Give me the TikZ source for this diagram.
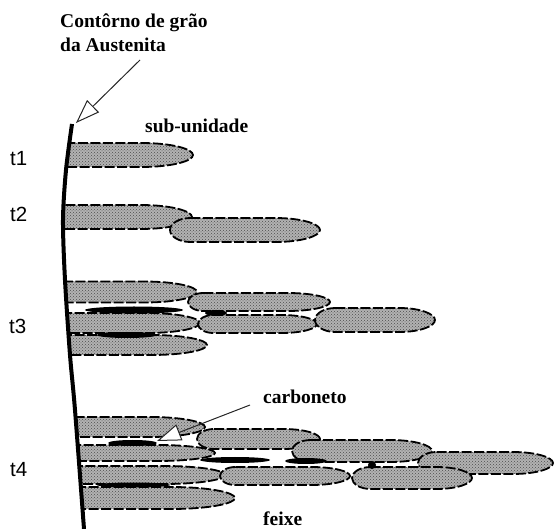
\documentclass[tikz,border=0pt]{standalone}
\usepackage{fontspec}
\setmainfont{Liberation Serif}
\newfontfamily\tempofont{Liberation Sans}
\usetikzlibrary{arrows.meta,patterns}

\tikzset{
	placa/.style={draw, line width=1.8pt, dash pattern=on 10pt off 2.5pt, preaction={fill=black!30}, pattern=crosshatch dots, pattern color=black!70},
	carbeto/.style={fill=black},
	rotulo/.style={font=\bfseries\fontsize{19.5}{22}\selectfont, inner sep=0pt, anchor=base west},
	tempo/.style={font=\tempofont\fontsize{20.5}{22}\selectfont, inner sep=0pt, anchor=base west},
	seta/.style={line width=1pt, black!85, -{Triangle[open, fill=white, length=24pt, width=17pt]}}
}

\begin{document}
\begin{tikzpicture}[x=1pt, y=-1pt]
	\useasboundingbox (0,0) rectangle (555,529);

	% placas (sub-unidades), cortadas no contorno
	\begin{scope}
		\clip plot[smooth] coordinates {(72,124) (66,170) (63,220) (65,280) (70,355) (75,410) (84,529)} -- (555,529) -- (555,120) -- cycle;
		\foreach \xl/\xr/\yc/\h in {20/193/155/12,
			20/192/217/12, 170/320/230/12,
			20/197/292/10.5, 188/330/302/9, 20/200/323/10, 198/317/324/9, 315/435/320/12, 20/207/345/10,
			20/205/427/10, 197/320/439/10, 292/432/451/11, 418/553/463/11, 20/215/453/8,
			20/225/475/9, 220/350/476/9, 352/472/478/11, 20/235/498/11}{
			\pgfmathsetmacro\xa{\xr-0.3*(\xr-\xl)}
			\pgfmathsetmacro\xb{\xr-0.12*(\xr-\xl)}
			\draw[placa] ({\xl+1.7*\h},{\yc-\h}) -- (\xa,{\yc-\h})
				.. controls (\xb,{\yc-\h}) and (\xr,{\yc-0.5*\h}) .. (\xr,\yc)
				.. controls (\xr,{\yc+0.5*\h}) and (\xb,{\yc+\h}) .. (\xa,{\yc+\h})
				-- ({\xl+1.7*\h},{\yc+\h}) arc[start angle=90, end angle=270, x radius=1.7*\h, y radius=\h] -- cycle;
		}
		% carbonetos
		\foreach \xl/\xr/\yc/\h in {85/183/310/3.5, 205/227/313/3, 97/157/335/3,
			108/157/443/3, 200/270/460/3, 285/327/461/3, 97/170/485/2.5}{
			\fill[carbeto] ({(\xl+\xr)/2},\yc) ellipse ({(\xr-\xl)/2} and \h);
		}
		\fill[carbeto] (372,465) circle (4);
	\end{scope}

	% contorno de grao
	\draw[line width=4pt] plot[smooth] coordinates {(72,124) (66,170) (63,220) (65,280) (70,355) (75,410) (84,529)};

	\node[rotulo] (contorno) at (60,28) {Contôrno de grão};
	\node[rotulo] (austenita) at (60,52) {da Austenita};
	\node[rotulo] (subunidade) at (145,133) {sub-unidade};
	\node[rotulo] (carboneto) at (263,404) {carboneto};
	\node[rotulo] (feixe) at (263,526) {feixe};

	\node[tempo] (t1) at (10,166) {t1};
	\node[tempo] (t2) at (10,222) {t2};
	\node[tempo] (t3) at (9,334) {t3};
	\node[tempo] (t4) at (10,477) {t4};

	\coordinate (inicio) at (140,60);
	\coordinate (topo) at (76,123);
	\coordinate (carbini) at (250,405);
	\coordinate (carbponta) at (157,441);
	\draw[seta] (inicio) -- (topo);
	\draw[seta] (carbini) -- (carbponta);
\end{tikzpicture}
\end{document}
